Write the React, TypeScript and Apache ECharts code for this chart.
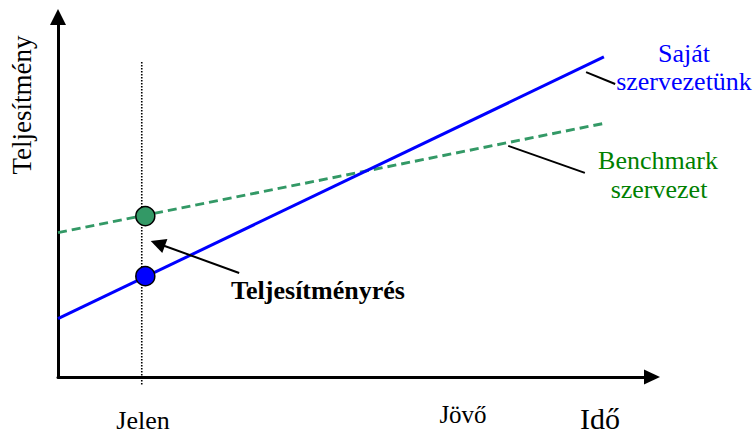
import React, { useEffect, useRef } from "react";
import * as echarts from "echarts";

// ---- data (value space: x 0..100 time, y 0..100 performance) ----
const ownOrgLine: number[][] = [[0, 16.2], [91.9, 88.9]];
const benchmarkLine: number[][] = [[0, 40.1], [92.3, 70.6]];
const presentLine: number[][] = [[14.1, 87.5], [14.1, -2.2]];
const ownNow: number[][] = [[14.7, 28.0]];
const benchmarkNow: number[][] = [[14.7, 44.7]];
const connectorLines: number[][][] = [
  [[88.9, 84.7], [93.8, 81.4]],
  [[75.8, 64.2], [88.7, 56.7]],
];
const gapArrow: number[][][] = [[[30.5, 28.9], [16.8, 37.1]]];
const timeLabels = ["Jelen", "Jövő", "Idő"];
const yLabel = "Teljesítmény";
const ownLabel = ["Saját", "szervezetünk"];
const benchmarkLabel = ["Benchmark", "szervezet"];
const gapLabel = "Teljesítményrés";

const FONT = "'Liberation Serif', 'Times New Roman', serif";

export default function App() {
  const ref = useRef<HTMLDivElement>(null);
  useEffect(() => {
    if (!ref.current) return;
    const chart = echarts.init(ref.current, undefined, { renderer: "svg" });
    const txt = (text: string, x: number, y: number, size: number, color: string, extra: any = {}) => ({
      type: "text",
      x,
      y,
      rotation: extra.rotation || 0,
      style: {
        text,
        fill: color,
        font: `${extra.bold ? "bold " : ""}${size}px ${FONT}`,
        textAlign: "center",
        textVerticalAlign: "middle",
      },
    });
    chart.setOption({
      animation: false,
      backgroundColor: "#ffffff",
      grid: { left: 58, right: 104, top: 17, bottom: 57 },
      xAxis: {
        type: "value",
        min: 0,
        max: 100,
        axisLine: {
          show: true,
          symbol: ["none", "triangle"],
          symbolSize: [15, 16],
          lineStyle: { color: "#000", width: 3 },
        },
        axisTick: { show: false },
        axisLabel: { show: false },
        splitLine: { show: false },
      },
      yAxis: {
        type: "value",
        min: 0,
        max: 100,
        axisLine: {
          show: true,
          symbol: ["none", "triangle"],
          symbolSize: [16, 16],
          lineStyle: { color: "#000", width: 3 },
        },
        axisTick: { show: false },
        axisLabel: { show: false },
        splitLine: { show: false },
      },
      series: [
        {
          type: "line",
          data: presentLine,
          symbol: "none",
          clip: false,
          lineStyle: { color: "#000", width: 1.6, type: [1.5, 1.5] },
          z: 1,
        },
        {
          type: "line",
          data: benchmarkLine,
          symbol: "none",
          lineStyle: { color: "#339966", width: 3, type: [9, 5] },
          z: 2,
        },
        {
          type: "line",
          data: ownOrgLine,
          symbol: "none",
          clip: false,
          lineStyle: { color: "#0000ff", width: 3 },
          z: 2,
        },
        {
          type: "scatter",
          data: benchmarkNow,
          symbol: "circle",
          symbolSize: 19,
          itemStyle: { color: "#339966", borderColor: "#000", borderWidth: 1.5, opacity: 1 },
          z: 5,
        },
        {
          type: "scatter",
          data: ownNow,
          symbol: "circle",
          symbolSize: 19,
          itemStyle: { color: "#0000ff", borderColor: "#000", borderWidth: 1.5, opacity: 1 },
          z: 5,
        },
        {
          type: "lines",
          coordinateSystem: "cartesian2d",
          data: connectorLines.map((c) => ({ coords: c })),
          symbol: ["none", "none"],
          lineStyle: { color: "#000", width: 2, opacity: 1 },
          z: 3,
        },
        {
          type: "lines",
          coordinateSystem: "cartesian2d",
          data: gapArrow.map((c) => ({ coords: c })),
          symbol: ["none", "triangle"],
          symbolSize: [14, 15],
          lineStyle: { color: "#000", width: 2, opacity: 1 },
          itemStyle: { color: "#000" },
          z: 3,
        },
      ],
      graphic: [
        txt(yLabel, 22, 105, 27, "#000", { rotation: Math.PI / 2 }),
        txt(timeLabels[0], 143, 420, 26, "#000"),
        txt(timeLabels[1], 463, 414, 25, "#000"),
        txt(timeLabels[2], 600, 418, 30, "#000"),
        txt(ownLabel[0], 684, 53, 26, "#0000ff"),
        txt(ownLabel[1], 684, 81, 26, "#0000ff"),
        txt(benchmarkLabel[0], 658, 160, 26, "#008000"),
        txt(benchmarkLabel[1], 659, 189, 26, "#008000"),
        txt(gapLabel, 318, 290, 26, "#000", { bold: true }),
      ],
    });
    return () => chart.dispose();
  }, []);
  return (
    <div
      ref={ref}
      style={{ position: "fixed", left: 0, top: 0, width: 756, height: 434, background: "#fff" }}
    />
  );
}
